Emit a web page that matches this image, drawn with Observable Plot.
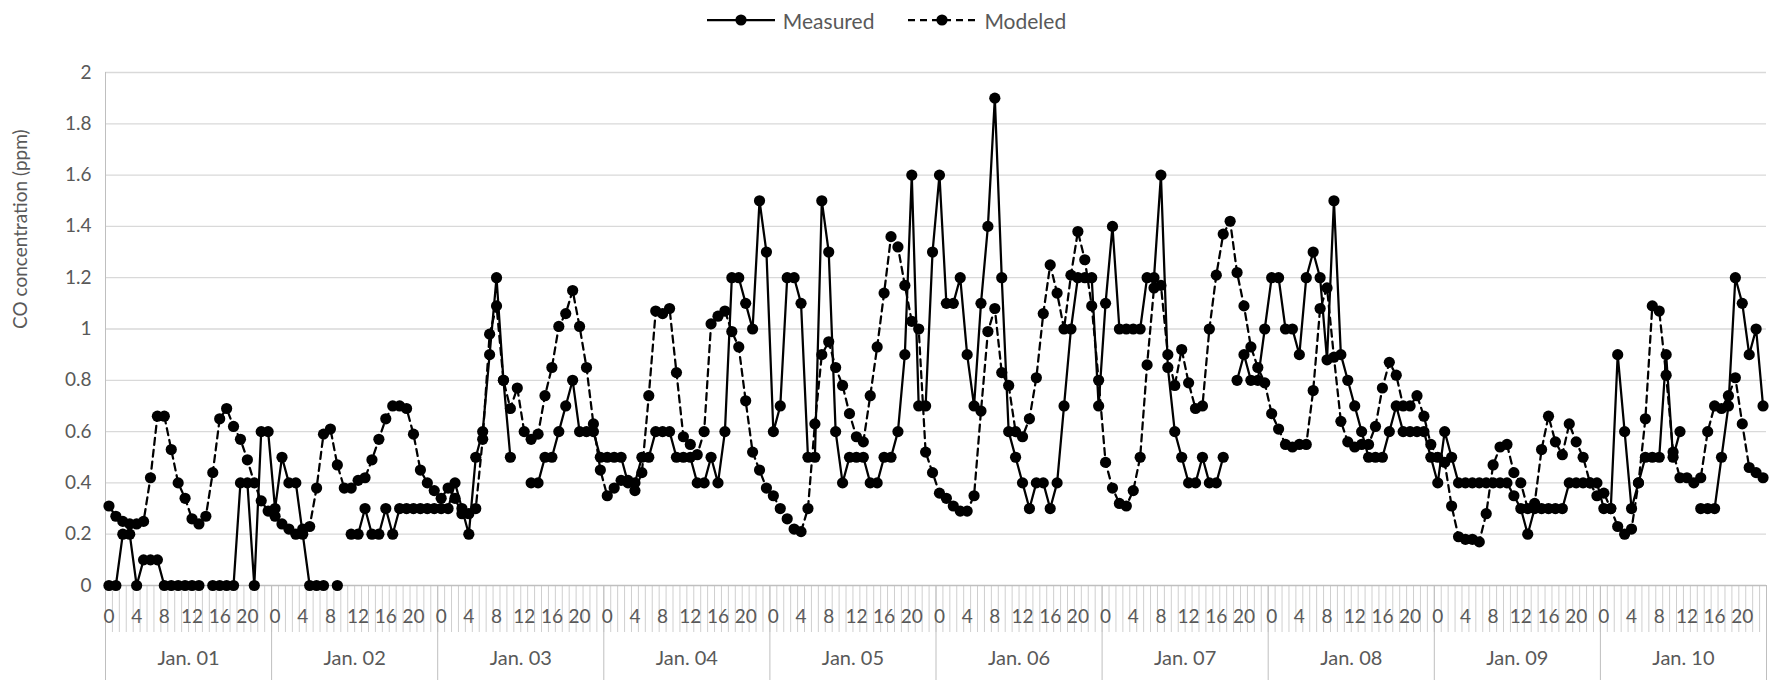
<!DOCTYPE html>
<html>
<head>
<meta charset="utf-8">
<script src="https://cdn.jsdelivr.net/npm/d3@7"></script>
<script src="https://cdn.jsdelivr.net/npm/@observablehq/plot@0.6"></script>
<style>
  body { margin: 0; background: #fff; font-family: Lato, "Open Sans", sans-serif; }
  #legend { height: 40px; display: flex; justify-content: center; align-items: center; gap: 34px; color: #595959; font-size: 21px; }
  .item { display: flex; align-items: center; gap: 8px; }
  .item svg { display: block; }
</style>
</head>
<body>
<div id="legend"></div>
<div id="chart"></div>
<script>
const dayLabels = ["Jan. 01","Jan. 02","Jan. 03","Jan. 04","Jan. 05","Jan. 06","Jan. 07","Jan. 08","Jan. 09","Jan. 10"];
const hourTickLabels = ["0","4","8","12","16","20"];
const hourTickHours = [0,4,8,12,16,20];
const yTicks = [0,0.2,0.4,0.6,0.8,1,1.2,1.4,1.6,1.8,2];
const seriesNames = ["Measured","Modeled"];
const yTitle = "CO concentration (ppm)";

// hourly values, one row per day (0..23 h)
const measured = [
  0,0,0.2,0.2,0,0.1,0.1,0.1,0,0,0,0,0,0,null,0,0,0,0,0.4,0.4,0,0.6,0.6,
  0.3,0.5,0.4,0.4,0.2,0,0,0,null,0,null,0.2,0.2,0.3,0.2,0.2,0.3,0.2,0.3,0.3,0.3,0.3,0.3,0.3,
  0.3,0.3,0.4,0.3,0.2,0.5,0.6,0.9,1.2,0.8,0.5,null,null,0.4,0.4,0.5,0.5,0.6,0.7,0.8,0.6,0.6,0.6,0.5,
  0.5,0.5,0.5,0.4,0.4,0.5,0.5,0.6,0.6,0.6,0.5,0.5,0.5,0.4,0.4,0.5,0.4,0.6,1.2,1.2,1.1,1.0,1.5,1.3,
  0.6,0.7,1.2,1.2,1.1,0.5,0.5,1.5,1.3,0.6,0.4,0.5,0.5,0.5,0.4,0.4,0.5,0.5,0.6,0.9,1.6,0.7,0.7,1.3,
  1.6,1.1,1.1,1.2,0.9,0.7,1.1,1.4,1.9,1.2,0.6,0.5,0.4,0.3,0.4,0.4,0.3,0.4,0.7,1.0,1.2,1.2,1.2,0.7,
  1.1,1.4,1.0,1.0,1.0,1.0,1.2,1.2,1.6,0.85,0.6,0.5,0.4,0.4,0.5,0.4,0.4,0.5,null,0.8,0.9,0.8,0.8,1.0,
  1.2,1.2,1.0,1.0,0.9,1.2,1.3,1.2,0.88,1.5,0.9,0.8,0.7,0.6,0.5,0.5,0.5,0.6,0.7,0.6,0.6,0.6,0.6,0.5,
  0.4,0.6,0.5,0.4,0.4,0.4,0.4,0.4,0.4,0.4,0.4,0.35,0.3,0.2,0.3,0.3,0.3,0.3,0.3,0.4,0.4,0.4,0.4,0.4,
  0.3,0.3,0.9,0.6,0.3,0.4,0.5,0.5,0.5,0.9,0.5,0.6,null,null,0.3,0.3,0.3,0.5,0.7,1.2,1.1,0.9,1.0,0.7
];
const modeled = [
  0.31,0.27,0.25,0.24,0.24,0.25,0.42,0.66,0.66,0.53,0.40,0.34,0.26,0.24,0.27,0.44,0.65,0.69,0.62,0.57,0.49,0.40,0.33,0.29,
  0.27,0.24,0.22,0.20,0.22,0.23,0.38,0.59,0.61,0.47,0.38,0.38,0.41,0.42,0.49,0.57,0.65,0.70,0.70,0.69,0.59,0.45,0.40,0.37,
  0.34,0.38,0.34,0.28,0.28,0.30,0.57,0.98,1.09,0.80,0.69,0.77,0.60,0.57,0.59,0.74,0.85,1.01,1.06,1.15,1.01,0.85,0.63,0.45,
  0.35,0.38,0.41,0.41,0.37,0.44,0.74,1.07,1.06,1.08,0.83,0.58,0.55,0.51,0.60,1.02,1.05,1.07,0.99,0.93,0.72,0.52,0.45,0.38,
  0.35,0.30,0.26,0.22,0.21,0.30,0.63,0.90,0.95,0.85,0.78,0.67,0.58,0.56,0.74,0.93,1.14,1.36,1.32,1.17,1.03,1.00,0.52,0.44,
  0.36,0.34,0.31,0.29,0.29,0.35,0.68,0.99,1.08,0.83,0.78,0.60,0.58,0.65,0.81,1.06,1.25,1.14,1.00,1.21,1.38,1.27,1.09,0.80,
  0.48,0.38,0.32,0.31,0.37,0.50,0.86,1.16,1.17,0.90,0.78,0.92,0.79,0.69,0.70,1.00,1.21,1.37,1.42,1.22,1.09,0.93,0.85,0.79,
  0.67,0.61,0.55,0.54,0.55,0.55,0.76,1.08,1.16,0.89,0.64,0.56,0.54,0.55,0.55,0.62,0.77,0.87,0.82,0.70,0.70,0.74,0.66,0.55,
  0.50,0.48,0.31,0.19,0.18,0.18,0.17,0.28,0.47,0.54,0.55,0.44,0.40,0.30,0.32,0.53,0.66,0.56,0.51,0.63,0.56,0.50,0.40,0.35,
  0.36,0.30,0.23,0.20,0.22,0.40,0.65,1.09,1.07,0.82,0.52,0.42,0.42,0.40,0.42,0.60,0.70,0.69,0.74,0.81,0.63,0.46,0.44,0.42
];

// ---- legend ----
const legend = document.getElementById("legend");
seriesNames.forEach((name, k) => {
  const item = document.createElement("div");
  item.className = "item";
  item.innerHTML = `<svg width="68" height="20"><line x1="0" x2="68" y1="10" y2="10" stroke="black" stroke-width="2.25" ${k ? 'stroke-dasharray="7,5"' : ''}/><circle cx="34" cy="10" r="5.6" fill="black"/></svg><span>${name}</span>`;
  legend.appendChild(item);
});

// ---- chart ----
const N = measured.length;
const rows = measured.map((m, i) => ({x: i + 0.5, measured: m, modeled: modeled[i]}));
const hourBounds = d3.range(0, N + 1);
const dayBounds = d3.range(0, N + 1, 24);
const hourLabelPos = [];
dayLabels.forEach((_, d) => hourTickHours.forEach(h => hourLabelPos.push(d * 24 + h + 0.5)));
const dayCenters = dayLabels.map((_, d) => d * 24 + 12);

const chart = Plot.plot({
  width: 1773,
  height: 640,
  marginLeft: 105,
  marginRight: 7,
  marginTop: 32,
  marginBottom: 95,
  style: {fontFamily: "Lato, 'Open Sans', sans-serif", fontSize: "19px", color: "#595959", background: "white", overflow: "visible"},
  x: {domain: [0, N], axis: null},
  y: {domain: [0, 2], axis: null},
  marks: [
    Plot.gridY(yTicks.slice(1), {stroke: "#d9d9d9", strokeOpacity: 1, strokeWidth: 1.3}),
    Plot.axisY({ticks: yTicks, tickSize: 0, tickPadding: 14, label: null, tickFormat: d => d3.format("~g")(d)}),
    Plot.axisX({ticks: hourBounds, tickSize: 47, label: null, tickFormat: () => "", stroke: "#cfcfcf"}),
    Plot.axisX({ticks: dayBounds, tickSize: 95, label: null, tickFormat: () => "", stroke: "#bfbfbf"}),
    Plot.axisX({ticks: hourLabelPos, tickSize: 0, tickPadding: 24, label: null,
      tickFormat: v => hourTickLabels[hourTickHours.indexOf(Math.round(v - 0.5) % 24)]}),
    Plot.axisX({ticks: dayCenters, tickSize: 0, tickPadding: 65, label: null, fontSize: 20,
      tickFormat: v => dayLabels[Math.round((v - 12) / 24)]}),
    Plot.ruleY([0], {stroke: "#bfbfbf", strokeWidth: 1.3}),
    Plot.ruleX([0], {stroke: "#bfbfbf"}),
    Plot.text([yTitle], {frameAnchor: "left", dx: -85, rotate: -90, text: d => d, fontSize: 19, fill: "#595959"}),
    Plot.line(rows, {x: "x", y: "measured", stroke: "black", strokeWidth: 2.25}),
    Plot.dot(rows.filter(d => d.measured != null), {x: "x", y: "measured", r: 5.6, fill: "black"}),
    Plot.line(rows, {x: "x", y: "modeled", stroke: "black", strokeWidth: 2.25, strokeDasharray: "7,5"}),
    Plot.dot(rows, {x: "x", y: "modeled", r: 5.6, fill: "black"})
  ]
});
document.getElementById("chart").appendChild(chart);
</script>
</body>
</html>
